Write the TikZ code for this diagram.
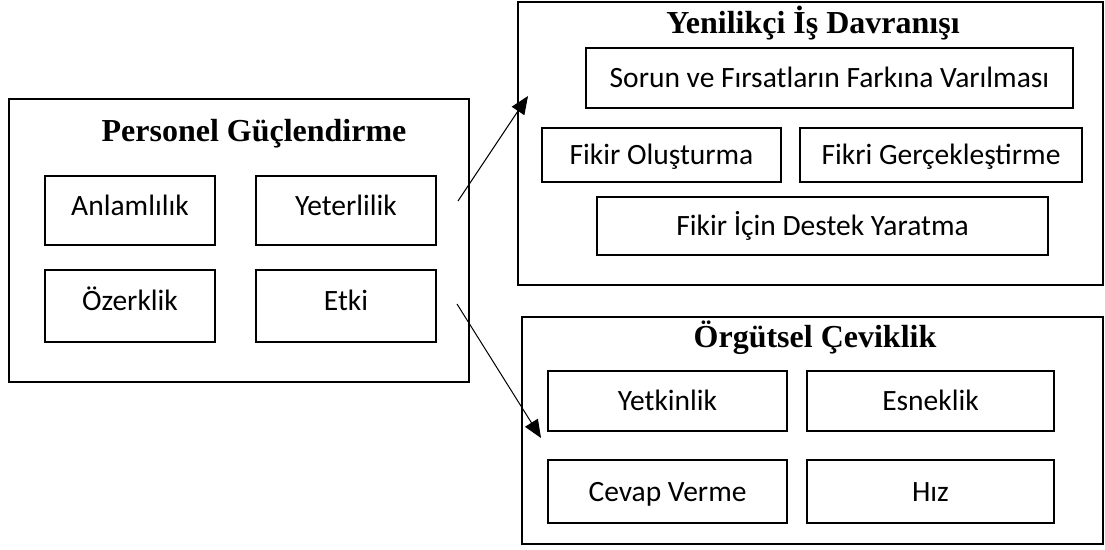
\documentclass[tikz,border=0pt]{standalone}
\usepackage{fontspec}
\setmainfont{Liberation Serif}
\newfontfamily\calibri{Carlito}
\usetikzlibrary{arrows.meta}
\begin{document}
\begin{tikzpicture}[x=1pt,y=-1pt,
  outerbox/.style={draw, line width=2.2pt, inner sep=0pt},
  inbox/.style={draw, line width=2.4pt, inner sep=0pt, text height=19pt, text depth=0pt, font=\calibri\fontsize{29.5}{32}\selectfont},
  inboxhi/.style={inbox, text depth=10pt},
  ttl/.style={inner sep=0pt, font=\bfseries\fontsize{32}{36}\selectfont},
  arr/.style={line width=1pt, -{Triangle[length=18pt,width=15pt]}}]
\useasboundingbox (0,0) rectangle (1105,549);
% left group
\node[outerbox, minimum width=460, minimum height=283] (pg) at (239,240.5) {};
\node[ttl] (pgt) at (254,134) {Personel Güçlendirme};
\node[inboxhi, minimum width=170, minimum height=69] (anl) at (130,210.5) {Anlamlılık};
\node[inboxhi, minimum width=180, minimum height=69] (yet) at (346,210.5) {Yeterlilik};
\node[inboxhi, minimum width=170, minimum height=72] (oze) at (130,306) {Özerklik};
\node[inboxhi, minimum width=180, minimum height=72] (etk) at (346,306) {Etki};
% top right group
\node[outerbox, minimum width=585, minimum height=283] (yib) at (810.5,143.5) {};
\node[ttl] (yibt) at (813,23) {Yenilikçi İş Davranışı};
\node[inbox, minimum width=487, minimum height=60] (sor) at (829.5,78) {Sorun ve Fırsatların Farkına Varılması};
\node[inbox, minimum width=239, minimum height=54] (fo) at (661.5,155) {Fikir Oluşturma};
\node[inbox, minimum width=282, minimum height=54] (fg) at (941,155) {Fikri Gerçekleştirme};
\node[inbox, minimum width=451, minimum height=58] (fd) at (822.5,226) {Fikir İçin Destek Yaratma};
% bottom right group
\node[outerbox, minimum width=581, minimum height=227] (oc) at (812.5,430.5) {};
\node[ttl] (oct) at (815,338) {Örgütsel Çeviklik};
\node[inbox, minimum width=239, minimum height=60] (ytk) at (667.5,401) {Yetkinlik};
\node[inbox, minimum width=247, minimum height=60] (esn) at (930.5,401) {Esneklik};
\node[inbox, minimum width=239, minimum height=63] (cev) at (667.5,491.5) {Cevap Verme};
\node[inbox, minimum width=247, minimum height=63] (hiz) at (930.5,491.5) {Hız};
% arrows
\coordinate (a1s) at (458,201);
\coordinate (a1e) at (528,96);
\coordinate (a2s) at (457,304);
\coordinate (a2e) at (541,438);
\draw[arr] (a1s) -- (a1e);
\draw[arr] (a2s) -- (a2e);
\end{tikzpicture}
\end{document}
